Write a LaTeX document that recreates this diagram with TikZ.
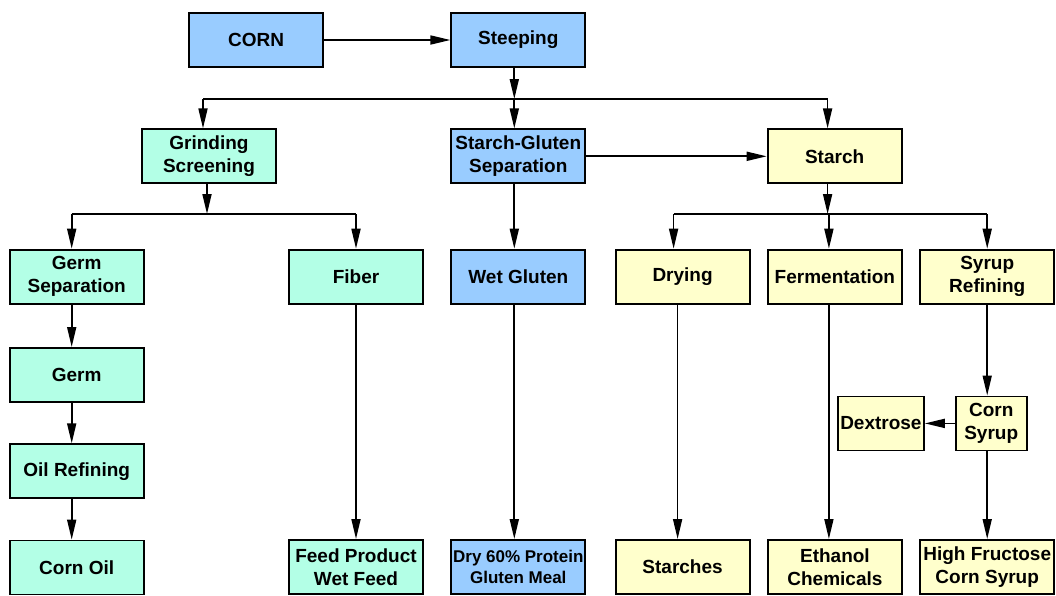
\documentclass[tikz,border=0pt]{standalone}
\usepackage{fontspec}
\setmainfont{Liberation Sans}
\usetikzlibrary{positioning,arrows.meta}
\definecolor{procblue}{HTML}{99CCFF}
\definecolor{procgreen}{HTML}{B3FFE6}
\definecolor{procyellow}{HTML}{FFFFCC}

\begin{document}
\begin{tikzpicture}[
			x=1pt,y=1pt,
			box/.style={
				draw,
				line width=1.8pt,
				align=center,
				inner sep=1pt,
				minimum width=134pt,
				minimum height=54pt,
				font=\fontsize{19}{23}\selectfont\bfseries
			},
			arrow/.style={-{Triangle[length=20pt,width=9pt]},line width=1.7pt},
			bus/.style={line width=1.7pt}
			]
			
			\useasboundingbox (0,0) rectangle (1056,-595);
			
			\node[box,fill=procblue] (corn) at (256,-40) {CORN};
			\node[box,fill=procblue,right=126.5pt of corn] (steep) {Steeping};
			\node[box,fill=procblue,below=60.5pt of steep] (sg) {Starch-Gluten\\Separation};
			\node[box,fill=procgreen,left=173.5pt of sg] (grind) {Grinding\\Screening};
			\node[box,fill=procyellow,right=180.5pt of sg] (starch) {Starch};
			
			\node[box,fill=procblue,below=64.5pt of sg] (wetgl) {Wet Gluten};
			\node[box,fill=procgreen,left=26.5pt of wetgl] (fiber) {Fiber};
			\node[box,fill=procgreen,left=143.5pt of fiber] (germsep) {Germ\\Separation};
			\node[box,fill=procyellow,right=28.5pt of wetgl] (drying) {Drying};
			\node[box,fill=procyellow,right=16.5pt of drying] (ferm) {Fermentation};
			\node[box,fill=procyellow,right=16.5pt of ferm] (syrup) {Syrup\\Refining};
			
			\node[box,fill=procgreen,below=42.5pt of germsep] (germ) {Germ};
			\node[box,fill=procgreen,below=40.5pt of germ] (oil) {Oil Refining};
			\node[box,fill=procgreen,below=40.5pt of oil] (cornoil) {Corn Oil};
			
			\node[box,fill=procgreen,below=234.5pt of fiber] (feed) {Feed Product\\Wet Feed};
			\node[box,fill=procblue,below=234.5pt of wetgl,font=\fontsize{17}{21}\selectfont\bfseries] (meal) {Dry 60\% Protein\\Gluten Meal};
			\node[box,fill=procyellow,below=234.5pt of drying] (starches) {Starches};
			\node[box,fill=procyellow,below=234.5pt of ferm] (ethanol) {Ethanol\\Chemicals};
			\node[box,fill=procyellow,below=234.5pt of syrup] (hfcs) {High Fructose\\Corn Syrup};
			
			\node[box,fill=procyellow,minimum width=71pt,below=91pt of syrup,xshift=4pt] (cs) {Corn\\Syrup};
			\node[box,fill=procyellow,minimum width=86pt,left=30pt of cs] (dex) {Dextrose};
			
			\coordinate (b1) at (0,-99);
			\coordinate (b2) at (0,-214);
			
			\draw[arrow] (corn) -- (steep);
			\draw[arrow] ([xshift=-4pt]steep.south) -- ([xshift=-4pt]steep.south |- b1);
			\draw[bus] ([xshift=-6pt]grind.north |- b1) -- ([xshift=-7pt]starch.north |- b1);
			\foreach \n/\d in {grind/-6,sg/-4,starch/-7}
				\draw[arrow] ([xshift=\d pt]\n.north |- b1) -- ([xshift=\d pt]\n.north);
			\draw[arrow] (sg) -- (starch);
			
			\draw[arrow] ([xshift=-2pt]grind.south) -- ([xshift=-2pt]grind.south |- b2);
			\draw[bus] ([xshift=-5pt]germsep.north |- b2) -- (fiber.north |- b2);
			\foreach \n/\d in {germsep/-5,fiber/0}
				\draw[arrow] ([xshift=\d pt]\n.north |- b2) -- ([xshift=\d pt]\n.north);
			
			\draw[arrow] ([xshift=-7pt]starch.south) -- ([xshift=-7pt]starch.south |- b2);
			\draw[bus] ([xshift=-9pt]drying.north |- b2) -- (syrup.north |- b2);
			\foreach \n/\d in {drying/-9,ferm/-6,syrup/0}
				\draw[arrow] ([xshift=\d pt]\n.north |- b2) -- ([xshift=\d pt]\n.north);
			
			\draw[arrow] ([xshift=-4pt]sg.south) -- ([xshift=-4pt]wetgl.north);
			\draw[arrow] ([xshift=-5pt]germsep.south) -- ([xshift=-5pt]germ.north);
			\draw[arrow] ([xshift=-5pt]germ.south) -- ([xshift=-5pt]oil.north);
			\draw[arrow] ([xshift=-5pt]oil.south) -- ([xshift=-5pt]cornoil.north);
			\draw[arrow] (fiber) -- (feed);
			\draw[arrow] ([xshift=-4pt]wetgl.south) -- ([xshift=-4pt]meal.north);
			\draw[arrow] ([xshift=-5pt]drying.south) -- ([xshift=-5pt]starches.north);
			\draw[arrow] ([xshift=-6pt]ferm.south) -- ([xshift=-6pt]ethanol.north);
			\draw[arrow] (syrup.south) -- (syrup.south |- cs.north);
			\draw[arrow] (cs) -- (dex);
			\draw[arrow] (cs.south -| hfcs.north) -- (hfcs.north);
			
		\end{tikzpicture}
\end{document}
